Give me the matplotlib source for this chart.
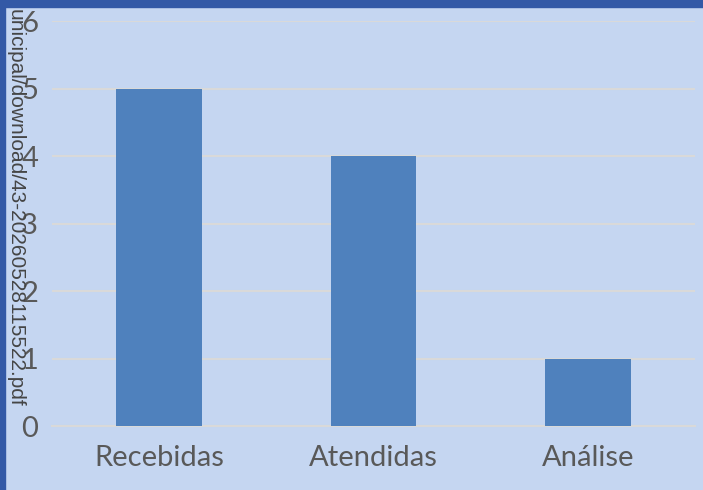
import matplotlib
matplotlib.use("Agg")
import matplotlib.pyplot as plt
from matplotlib.patches import Rectangle

# ----- Daten -----
categorias = ["Recebidas", "Atendidas", "Análise"]
valores = [5, 4, 1]
y_ticks = [0, 1, 2, 3, 4, 5, 6]
texto_lateral = "unicipal/download/43-20260528115522.pdf"

FUNDO = "#C5D6F1"
BORDA = "#3359A6"
BARRA = "#4F81BD"
TEXTO = "#595959"

plt.rcParams["font.family"] = ["Lato", "DejaVu Sans"]

fig = plt.figure(figsize=(7.03, 4.90), dpi=100, facecolor=FUNDO)
ax = fig.add_axes([0.074, 0.1306, 0.9146, 0.8264])
ax.set_facecolor(FUNDO)

x = range(len(categorias))
ax.bar(x, valores, width=0.4, color=BARRA, zorder=3)

ax.set_xlim(-0.5, len(categorias) - 0.5)
ax.set_ylim(0, 6)
ax.set_yticks(y_ticks)
ax.set_xticks(list(x))
ax.set_xticklabels(categorias)
ax.yaxis.grid(True, color="#D9D9D9", linewidth=1.5, zorder=0)
ax.tick_params(axis="both", length=0, labelsize=21, colors=TEXTO)
ax.tick_params(axis="x", pad=14)
ax.tick_params(axis="y", pad=10)
for s in ["top", "right", "left"]:
    ax.spines[s].set_visible(False)
ax.spines["bottom"].set_color("#D9D9D9")
ax.spines["bottom"].set_linewidth(1.5)

# Rahmen oben und links
fig.patches.append(Rectangle((0, 0), 5 / 703, 1, transform=fig.transFigure,
                             color=BORDA, zorder=10))
fig.patches.append(Rectangle((0, 1 - 7 / 490), 1, 7 / 490, transform=fig.transFigure,
                             color=BORDA, zorder=10))

# seitlicher Text, unten bei ca. 407 px verankert, liegt ueber dem Rahmen
fig.text(15 / 703, 1 - 407 / 490, texto_lateral, rotation=270, ha="center", va="bottom",
         fontsize=15, color="#454545", family="Liberation Sans", zorder=12)

plt.savefig("out.png", dpi=100, facecolor=FUNDO)
